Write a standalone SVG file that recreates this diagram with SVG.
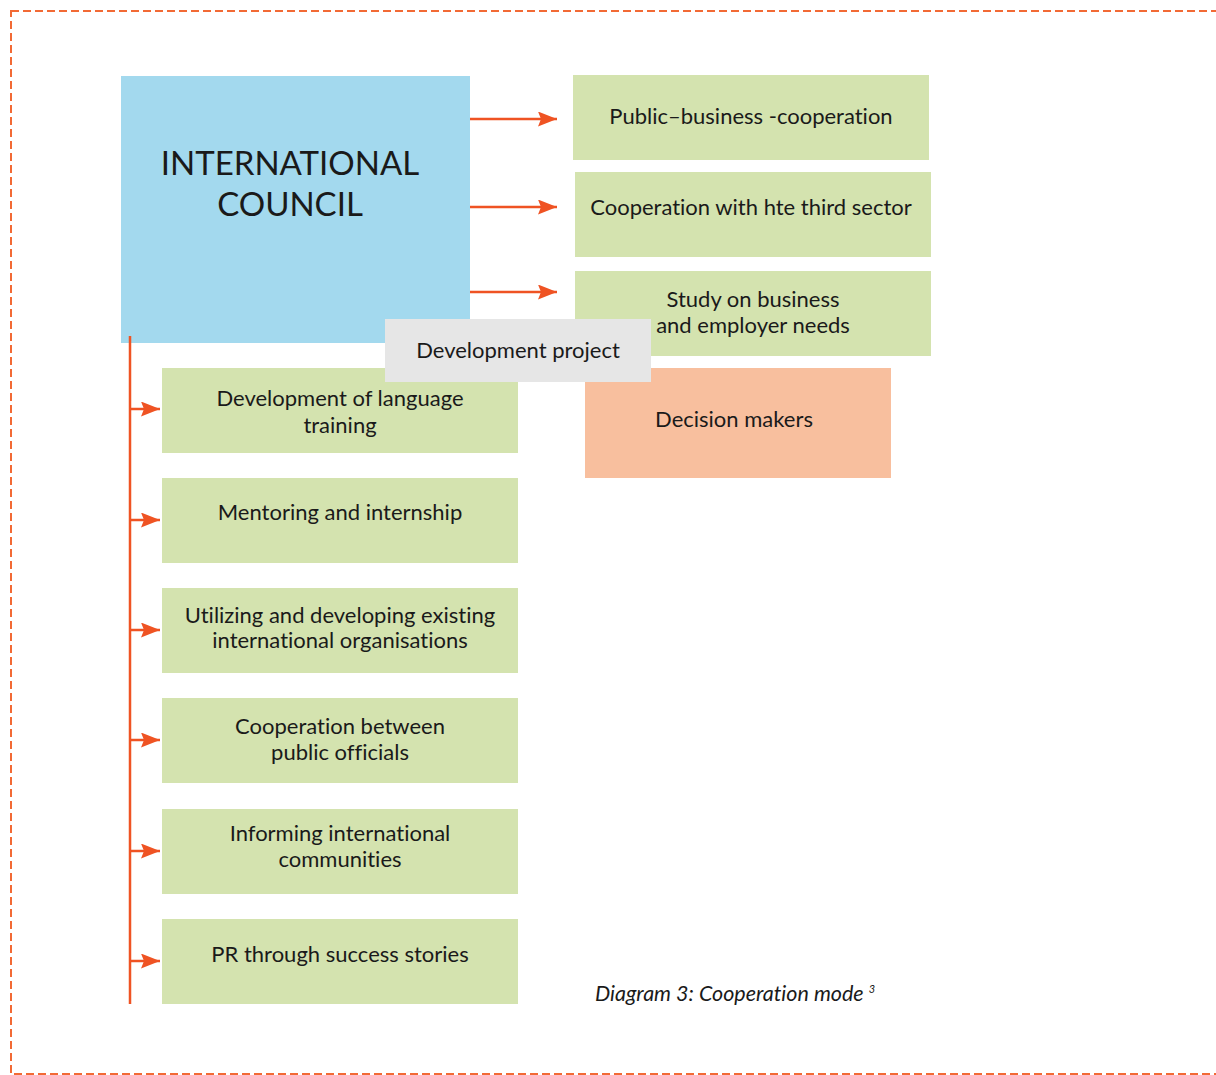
<svg xmlns="http://www.w3.org/2000/svg" width="1216" height="1075" viewBox="0 0 1216 1075">
<style>
.g{fill:#d4e3af}
.t{font-family:Lato,"Open Sans","Liberation Sans",sans-serif;font-size:22px;fill:#1a1a1a;text-anchor:middle;font-variant-ligatures:none}
.c{stroke:#ef5323;stroke-width:2.5;fill:none}
</style>
<defs>
<marker id="ah" markerWidth="19" markerHeight="15" refX="19" refY="7.5" orient="auto" markerUnits="userSpaceOnUse">
<path d="M0,0 L19,7.5 L0,15 L3,7.5 Z" fill="#ef5323"/>
</marker>
</defs>
<rect x="11" y="11" width="1220" height="1063" fill="none" stroke="#f26a35" stroke-width="2" stroke-dasharray="8 4"/>

<g id="intl"><rect x="121" y="76" width="349" height="267" fill="#a3d9ee"/>
<text class="t" x="290" y="175" style="font-size:33px">INTERNATIONAL</text>
<text class="t" x="290" y="216" style="font-size:33px">COUNCIL</text></g>

<g id="pub"><rect class="g" x="573" y="75" width="356" height="85"/><text class="t" x="751" y="124">Public–business -cooperation</text></g>
<g id="third"><rect class="g" x="575" y="172" width="356" height="85"/><text class="t" x="751" y="215">Cooperation with hte third sector</text></g>
<g id="study"><rect class="g" x="575" y="271" width="356" height="85"/><text class="t" x="753" y="307">Study on business</text><text class="t" x="753" y="333">and employer needs</text></g>

<g id="l1"><rect class="g" x="162" y="368" width="356" height="85"/><text class="t" x="340" y="406">Development of language</text><text class="t" x="340" y="433">training</text></g>
<g id="l2"><rect class="g" x="162" y="478" width="356" height="85"/><text class="t" x="340" y="520">Mentoring and internship</text></g>
<g id="l3"><rect class="g" x="162" y="588" width="356" height="85"/><text class="t" x="340" y="623">Utilizing and developing existing</text><text class="t" x="340" y="648">international organisations</text></g>
<g id="l4"><rect class="g" x="162" y="698" width="356" height="85"/><text class="t" x="340" y="734">Cooperation between</text><text class="t" x="340" y="760">public officials</text></g>
<g id="l5"><rect class="g" x="162" y="809" width="356" height="85"/><text class="t" x="340" y="841">Informing international</text><text class="t" x="340" y="867">communities</text></g>
<g id="l6"><rect class="g" x="162" y="919" width="356" height="85"/><text class="t" x="340" y="962">PR through success stories</text></g>

<g id="dm"><rect x="585" y="368" width="306" height="110" fill="#f8bf9e"/><text class="t" x="734" y="427">Decision makers</text></g>
<g id="dp"><rect x="385" y="319" width="266" height="63" fill="#e6e6e6"/><text class="t" x="518" y="358">Development project</text></g>

<g id="connectors">
<line class="c" x1="470" y1="119" x2="557" y2="119" marker-end="url(#ah)"/>
<line class="c" x1="470" y1="207" x2="557" y2="207" marker-end="url(#ah)"/>
<line class="c" x1="470" y1="292" x2="557" y2="292" marker-end="url(#ah)"/>
<line class="c" x1="130" y1="336" x2="130" y2="1004"/>
<line class="c" x1="130" y1="409" x2="160" y2="409" marker-end="url(#ah)"/>
<line class="c" x1="130" y1="520" x2="160" y2="520" marker-end="url(#ah)"/>
<line class="c" x1="130" y1="630" x2="160" y2="630" marker-end="url(#ah)"/>
<line class="c" x1="130" y1="740" x2="160" y2="740" marker-end="url(#ah)"/>
<line class="c" x1="130" y1="851" x2="160" y2="851" marker-end="url(#ah)"/>
<line class="c" x1="130" y1="961" x2="160" y2="961" marker-end="url(#ah)"/>
</g>

<text x="595" y="1001" style="font-family:Lato,'Open Sans',sans-serif;font-style:italic;font-size:21.5px;fill:#1a1a1a;font-variant-ligatures:none">Diagram 3: Cooperation mode<tspan dx="5" dy="-8" style="font-size:11px">3</tspan></text>
</svg>
